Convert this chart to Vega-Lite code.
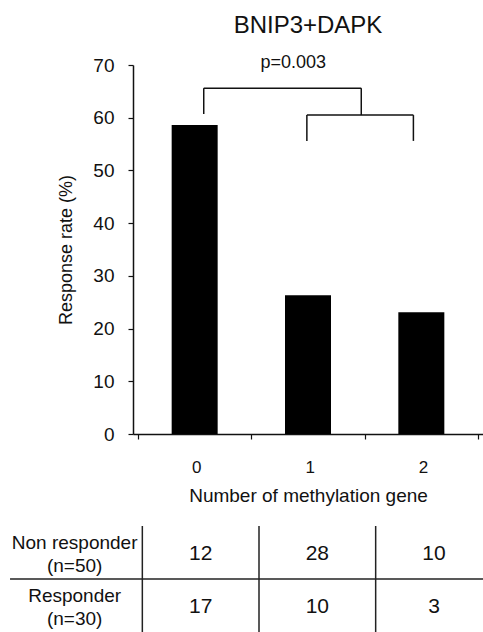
{
  "$schema": "https://vega.github.io/schema/vega-lite/v6.json",
  "padding": {"left": 9, "top": 13, "right": 0, "bottom": 0},
  "spacing": 20,
  "config": {
    "view": {"stroke": null},
    "font": "Liberation Sans",
    "axis": {"grid": false, "domainColor": "#111", "tickColor": "#111", "labelColor": "#111", "titleColor": "#111", "titleFontWeight": "normal", "domainWidth": 1.5, "tickWidth": 1.2}
  },
  "vconcat": [
    {
      "title": {"text": "BNIP3+DAPK", "fontSize": 24, "fontWeight": "normal", "offset": 16, "color": "#111"},
      "width": 350,
      "height": 369,
      "layer": [
        {
          "data": {"values": [
            {"gene": 0, "rate": 58.6},
            {"gene": 1, "rate": 26.3},
            {"gene": 2, "rate": 23.1}
          ]},
          "mark": {"type": "bar", "color": "black", "size": 46, "orient": "vertical"},
          "encoding": {
            "x": {"field": "gene", "type": "quantitative", "scale": {"domain": [-0.5, 2.5], "nice": false, "zero": false},
              "axis": {"title": "Number of methylation gene", "values": [-0.5, 0.5, 1.5, 2.5],
                "labelExpr": "datum.value < 2 ? format(datum.value + 0.5, 'd') : ''",
                "labelOffset": 58.33, "labelFlush": false, "labelOverlap": false, "labelBound": false,
                "labelAngle": 0, "labelFontSize": 17, "titleFontSize": 19, "tickSize": 5, "labelPadding": 20, "titlePadding": 11}},
            "y": {"field": "rate", "type": "quantitative", "scale": {"domain": [0, 70], "nice": false},
              "axis": {"title": "Response rate (%)", "values": [0, 10, 20, 30, 40, 50, 60, 70], "labelFontSize": 19, "titleFontSize": 18, "tickSize": 5, "labelPadding": 14, "titlePadding": 17}}
          }
        },
        {
          "data": {"values": [
            {"x": 0.08, "x2": 1.47, "y": 65.6, "y2": 65.6},
            {"x": 0.08, "x2": 0.08, "y": 60.7, "y2": 65.6},
            {"x": 1.47, "x2": 1.47, "y": 60.5, "y2": 65.6},
            {"x": 0.99, "x2": 1.93, "y": 60.5, "y2": 60.5},
            {"x": 0.99, "x2": 0.99, "y": 55.6, "y2": 60.5},
            {"x": 1.93, "x2": 1.93, "y": 55.6, "y2": 60.5}
          ]},
          "mark": {"type": "rule", "color": "#111", "strokeWidth": 1.5},
          "encoding": {
            "x": {"field": "x", "type": "quantitative"},
            "x2": {"field": "x2"},
            "y": {"field": "y", "type": "quantitative"},
            "y2": {"field": "y2"}
          }
        },
        {
          "data": {"values": [{"label": "p=0.003", "x": 0.87, "y": 70.4}]},
          "mark": {"type": "text", "fontSize": 18, "baseline": "middle", "align": "center", "color": "#111"},
          "encoding": {
            "x": {"field": "x", "type": "quantitative"},
            "y": {"field": "y", "type": "quantitative"},
            "text": {"field": "label"}
          }
        }
      ]
    },
    {
      "width": 350,
      "height": 106,
      "layer": [
        {
          "data": {"values": [{"edge": -0.5}, {"edge": 0.5}, {"edge": 1.5}]},
          "mark": {"type": "rule", "color": "#222", "strokeWidth": 1.5},
          "encoding": {
            "x": {"field": "edge", "type": "quantitative", "scale": {"domain": [-0.58, 2.42], "nice": false, "zero": false}, "axis": null}
          }
        },
        {
          "data": {"values": [{"x": -1.634, "x2": 2.42, "row": 1.5, "row2": 1.5}]},
          "mark": {"type": "rule", "color": "#222", "strokeWidth": 1.5},
          "encoding": {
            "x": {"field": "x", "type": "quantitative", "axis": null},
            "x2": {"field": "x2"},
            "y": {"field": "row", "type": "quantitative", "scale": {"domain": [0.5, 2.5], "reverse": true, "nice": false, "zero": false}, "axis": null},
            "y2": {"field": "row2"}
          }
        },
        {
          "data": {"values": [
            {"group": "Non responder\n(n=50)", "row": 1, "col": -1.08},
            {"group": "Responder\n(n=30)", "row": 2, "col": -1.08}
          ]},
          "mark": {"type": "text", "fontSize": 19, "lineBreak": "\n", "lineHeight": 22.5, "baseline": "middle", "align": "center", "dy": -9.5, "color": "#111"},
          "encoding": {
            "x": {"field": "col", "type": "quantitative", "axis": null},
            "y": {"field": "row", "type": "quantitative", "axis": null},
            "text": {"field": "group"}
          }
        },
        {
          "data": {"values": [
            {"group": "Non responder", "row": 1, "gene": 0, "count": 12},
            {"group": "Non responder", "row": 1, "gene": 1, "count": 28},
            {"group": "Non responder", "row": 1, "gene": 2, "count": 10},
            {"group": "Responder", "row": 2, "gene": 0, "count": 17},
            {"group": "Responder", "row": 2, "gene": 1, "count": 10},
            {"group": "Responder", "row": 2, "gene": 2, "count": 3}
          ]},
          "mark": {"type": "text", "fontSize": 21, "baseline": "middle", "align": "center", "dy": 1, "color": "#111"},
          "encoding": {
            "x": {"field": "gene", "type": "quantitative", "axis": null},
            "y": {"field": "row", "type": "quantitative", "axis": null},
            "text": {"field": "count"}
          }
        }
      ]
    }
  ]
}
